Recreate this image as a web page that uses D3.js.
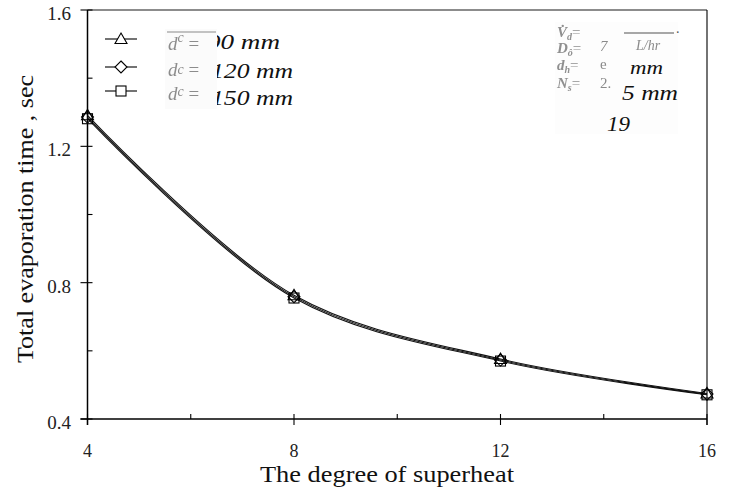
<!DOCTYPE html>
<html>
<head>
<meta charset="utf-8">
<script src="https://cdn.jsdelivr.net/npm/d3@7"></script>
<style>
  html, body { margin: 0; padding: 0; background: #fff; }
  svg { display: block; }
  text { font-family: "Liberation Serif", "Times New Roman", serif; }
</style>
</head>
<body>
<svg id="chart" width="731" height="493"></svg>
<script>
// ---- data ----
const superheat = [4, 8, 12, 16];
const dc90  = [1.291, 0.763, 0.576, 0.475];
const dc120 = [1.286, 0.759, 0.573, 0.473];
const dc150 = [1.281, 0.755, 0.570, 0.471];
const xTicks = [4, 8, 12, 16];
const xMinorTicks = [6, 10, 14];
const yTicks = [0.4, 0.8, 1.2, 1.6];
const yMinorTicks = [0.6, 1.0, 1.4];
const legendValues = ["90 mm", "120 mm", "150 mm"];

const svg = d3.select("#chart");
const X0 = 87.5, X1 = 707, Y0 = 419, Y1 = 10;
const x = d3.scaleLinear().domain([4, 16]).range([X0, X1]);
const y = d3.scaleLinear().domain([0.4, 1.6]).range([Y0, Y1]);

const defs = svg.append("defs");
defs.append("filter").attr("id", "blur").append("feGaussianBlur").attr("stdDeviation", 0.6);

// frame: top (gray) and right
svg.append("line").attr("x1", X0).attr("x2", X1).attr("y1", Y1).attr("y2", Y1)
  .attr("stroke", "#666").attr("stroke-width", 1.6);
svg.append("line").attr("x1", X1).attr("x2", X1).attr("y1", Y1).attr("y2", Y0 + 6)
  .attr("stroke", "#000").attr("stroke-width", 1.1);

// x axis
const gx = svg.append("g");
gx.append("line").attr("x1", X0 - 7).attr("x2", X1).attr("y1", Y0).attr("y2", Y0)
  .attr("stroke", "#000").attr("stroke-width", 1.5);
gx.selectAll(".xmaj").data(xTicks).join("line")
  .attr("x1", d => x(d)).attr("x2", d => x(d)).attr("y1", Y0 - 5).attr("y2", Y0 + 6)
  .attr("stroke", "#000").attr("stroke-width", 1.1);
gx.selectAll(".xmin").data(xMinorTicks).join("line")
  .attr("x1", d => x(d)).attr("x2", d => x(d)).attr("y1", Y0 - 5).attr("y2", Y0)
  .attr("stroke", "#000").attr("stroke-width", 1.1);
gx.selectAll(".xlab").data(xTicks).join("text")
  .attr("x", d => x(d)).attr("y", 457).attr("text-anchor", "middle")
  .attr("font-size", 18).attr("fill", "#222").text(d => d);

// y axis
const gy = svg.append("g");
gy.append("line").attr("x1", X0).attr("x2", X0).attr("y1", Y1).attr("y2", Y0 + 6)
  .attr("stroke", "#000").attr("stroke-width", 1.5);
gy.selectAll(".ymaj").data(yTicks).join("line")
  .attr("x1", X0 - 7).attr("x2", X0 + 5).attr("y1", d => y(d)).attr("y2", d => y(d))
  .attr("stroke", "#000").attr("stroke-width", 1.1);
gy.selectAll(".ymin").data(yMinorTicks).join("line")
  .attr("x1", X0).attr("x2", X0 + 5).attr("y1", d => y(d)).attr("y2", d => y(d))
  .attr("stroke", "#000").attr("stroke-width", 1.1);
gy.selectAll(".ylab").data(yTicks).join("text")
  .attr("x", 71).attr("y", d => y(d) + 10).attr("text-anchor", "end")
  .attr("font-size", 19).attr("fill", "#222").text(d => d.toFixed(1));

// axis titles
svg.append("text").attr("x", 387).attr("y", 482).attr("text-anchor", "middle")
  .attr("font-size", 24).attr("fill", "#111")
  .attr("textLength", 254).attr("lengthAdjust", "spacingAndGlyphs")
  .text("The degree of superheat");
svg.append("text").attr("transform", "translate(33,219) rotate(-90)")
  .attr("text-anchor", "middle").attr("font-size", 24).attr("fill", "#111")
  .attr("textLength", 288).attr("lengthAdjust", "spacingAndGlyphs")
  .text("Total evaporation time , sec");

// series
const series = [dc90, dc120, dc150];
const shapes = ["triangle", "diamond", "square"];
const line = d3.line().x(d => x(d[0])).y(d => y(d[1])).curve(d3.curveCatmullRom.alpha(0.5));

function marker(g, shape, cx, cy, fill) {
  if (shape === "triangle") {
    g.append("path").attr("d", `M${cx},${cy - 6}L${cx + 6},${cy + 4.5}L${cx - 6},${cy + 4.5}Z`)
      .attr("fill", fill).attr("stroke", "#000").attr("stroke-width", 1.1);
  } else if (shape === "diamond") {
    g.append("path").attr("d", `M${cx},${cy - 6}L${cx + 6},${cy}L${cx},${cy + 6}L${cx - 6},${cy}Z`)
      .attr("fill", fill).attr("stroke", "#000").attr("stroke-width", 1.1);
  } else {
    g.append("rect").attr("x", cx - 5).attr("y", cy - 5).attr("width", 10).attr("height", 10)
      .attr("fill", fill).attr("stroke", "#000").attr("stroke-width", 1.1);
  }
}

series.forEach((vals) => {
  const pts = superheat.map((s, k) => [s, vals[k]]);
  svg.append("path").datum(pts).attr("d", line)
    .attr("fill", "none").attr("stroke", "#111").attr("stroke-width", 1.1);
});
series.forEach((vals, i) => {
  const g = svg.append("g");
  superheat.forEach((s, k) => marker(g, shapes[i], x(s), y(vals[k]), "none"));
});

// legend
const legY = [39, 67, 91];
const legTextY = [49, 78, 105];
const legTextX = [207, 211, 211];
const legTextW = [73, 82, 82];
legY.forEach((ly, i) => {
  svg.append("line").attr("x1", 105).attr("x2", 137).attr("y1", ly).attr("y2", ly)
    .attr("stroke", "#000").attr("stroke-width", 1.1);
  marker(svg.append("g"), shapes[i], 121, ly, "#fff");
  svg.append("text").attr("x", legTextX[i]).attr("y", legTextY[i])
    .attr("font-size", 22).attr("font-style", "italic").attr("fill", "#111")
    .attr("textLength", legTextW[i]).attr("lengthAdjust", "spacingAndGlyphs")
    .text(legendValues[i]);
});
// faded legend patch
const lp = svg.append("g");
lp.append("rect").attr("x", 165).attr("y", 29).attr("width", 52).attr("height", 80).attr("fill", "#fbfbfb");
lp.append("line").attr("x1", 167).attr("x2", 216).attr("y1", 32).attr("y2", 32)
  .attr("stroke", "#8a8a8a").attr("stroke-width", 1.2);
const lpY = [50, 76, 100];
const lpDy = [-8, -2, -4];
lpY.forEach((by, i) => {
  const t = lp.append("text").attr("x", 168).attr("y", by).attr("font-size", 19)
    .attr("font-style", "italic").attr("fill", "#8c8c8c").attr("filter", "url(#blur)");
  t.append("tspan").text("d");
  t.append("tspan").attr("dy", lpDy[i]).attr("font-size", 14).text("c");
  t.append("tspan").attr("dy", -lpDy[i]).attr("font-style", "normal").text(" =");
});

// annotation patch (right)
const ap = svg.append("g");
ap.append("rect").attr("x", 555).attr("y", 22).attr("width", 123).attr("height", 112).attr("fill", "#fdfdfd");
const annMain = ["V\u0307", "D", "d", "N"];
const annSub = ["d", "\u00F4", "h", "s"];
const annY = [37, 53, 70, 88];
annY.forEach((by, i) => {
  const t = ap.append("text").attr("x", 557).attr("y", by).attr("font-size", 15)
    .attr("font-style", "italic").attr("font-weight", "bold").attr("fill", "#8f8f8f").attr("filter", "url(#blur)");
  t.append("tspan").text(annMain[i]);
  t.append("tspan").attr("dy", 3).attr("font-size", 10).text(annSub[i]);
  t.append("tspan").attr("dy", -3).attr("font-style", "normal").attr("font-weight", "normal").text("=");
});
ap.append("line").attr("x1", 624).attr("x2", 674).attr("y1", 33).attr("y2", 33)
  .attr("stroke", "#8a8a8a").attr("stroke-width", 1.3);
ap.append("text").attr("x", 676).attr("y", 33).attr("font-size", 14).attr("fill", "#555").text(".");
ap.append("text").attr("x", 600).attr("y", 51).attr("font-size", 15).attr("font-style", "italic")
  .attr("fill", "#8a8a8a").attr("filter", "url(#blur)").text("7");
ap.append("text").attr("x", 636).attr("y", 50).attr("font-size", 14).attr("font-style", "italic")
  .attr("fill", "#8a8a8a").attr("filter", "url(#blur)").text("L/hr");
ap.append("text").attr("x", 600).attr("y", 69).attr("font-size", 15)
  .attr("fill", "#8a8a8a").attr("filter", "url(#blur)").text("e");
ap.append("text").attr("x", 600).attr("y", 88).attr("font-size", 15)
  .attr("fill", "#8a8a8a").attr("filter", "url(#blur)").text("2.");
ap.append("text").attr("x", 630).attr("y", 74).attr("font-size", 18).attr("font-style", "italic")
  .attr("fill", "#111").attr("textLength", 33).attr("lengthAdjust", "spacingAndGlyphs").text("mm");
ap.append("text").attr("x", 622).attr("y", 100).attr("font-size", 22).attr("font-style", "italic")
  .attr("fill", "#111").attr("textLength", 56).attr("lengthAdjust", "spacingAndGlyphs").text("5 mm");
ap.append("text").attr("x", 607).attr("y", 131).attr("font-size", 22).attr("font-style", "italic")
  .attr("fill", "#111").attr("textLength", 23).attr("lengthAdjust", "spacingAndGlyphs").text("19");
</script>
</body>
</html>
